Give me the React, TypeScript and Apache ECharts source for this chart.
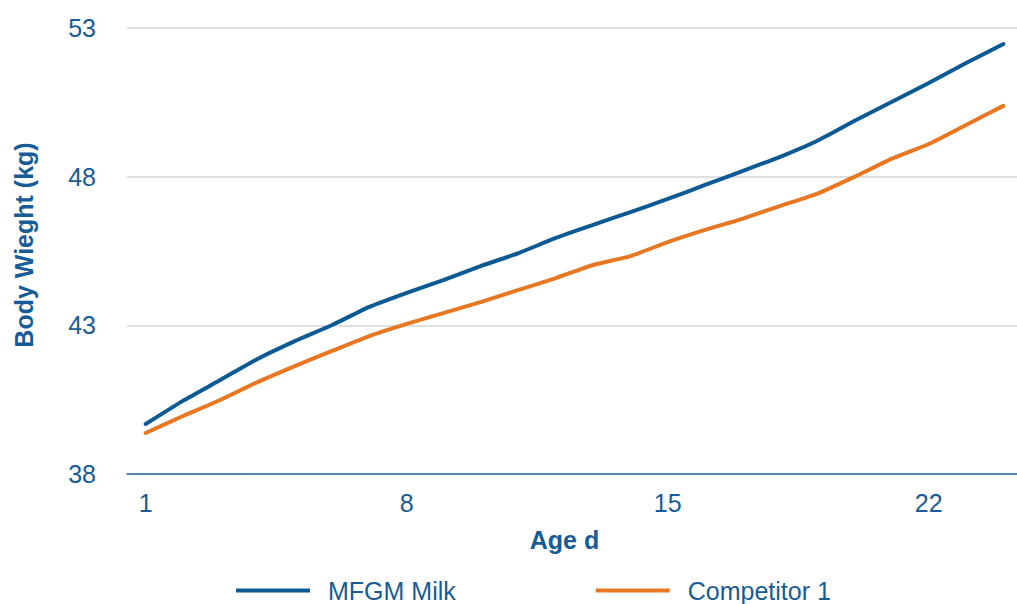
import React, { useEffect, useRef } from "react";
import * as echarts from "echarts";

const days = Array.from({ length: 24 }, (_, i) => String(i + 1));
const mfgmMilk = [
  39.68, 40.46, 41.16, 41.87, 42.47, 43.01, 43.62, 44.09, 44.53, 45.0, 45.43, 45.94,
  46.38, 46.81, 47.25, 47.72, 48.19, 48.66, 49.2, 49.87, 50.51, 51.15, 51.82, 52.46,
];
const competitor1 = [
  39.38, 39.95, 40.49, 41.09, 41.63, 42.14, 42.64, 43.05, 43.42, 43.79, 44.19, 44.59,
  45.03, 45.33, 45.8, 46.21, 46.58, 47.01, 47.42, 47.99, 48.6, 49.1, 49.74, 50.38,
];
const seriesNames = ["MFGM Milk", "Competitor 1"];

const BLUE = "#0b5a94";
const ORANGE = "#e87722";
const TEXT = "#175c96";
const FONT = "'Liberation Sans', Arial, Helvetica, sans-serif";

export default function App() {
  const ref = useRef<HTMLDivElement>(null);
  useEffect(() => {
    if (!ref.current) return;
    const chart = echarts.init(ref.current, undefined, { renderer: "svg" });
    chart.setOption({
      animation: false,
      textStyle: { fontFamily: FONT },
      grid: {
        left: 127,
        width: 895,
        top: 28,
        bottom: 130,
        containLabel: false,
        outerBoundsMode: "none",
      },
      legend: {
        left: 231,
        bottom: -4,
        itemGap: 140,
        itemWidth: 74,
        itemHeight: 4,
        icon: "rect",
        data: seriesNames,
        textStyle: { color: TEXT, fontSize: 25, fontFamily: FONT, padding: [0, 0, 0, 13] },
      },
      xAxis: {
        type: "category",
        data: days,
        boundaryGap: true,
        name: "Age d",
        nameLocation: "middle",
        nameGap: 53,
        nameTextStyle: {
          color: TEXT,
          fontSize: 25,
          fontWeight: "bold",
          fontFamily: FONT,
          padding: [0, 20, 0, 0],
        },
        axisLine: { lineStyle: { color: "#2a6aa3", width: 1.5 } },
        axisTick: { show: false },
        axisLabel: { interval: 6, color: TEXT, fontSize: 25, margin: 16, fontFamily: FONT },
        splitLine: { show: false },
      },
      yAxis: {
        type: "value",
        min: 38,
        max: 53,
        interval: 5,
        name: "Body Wieght (kg)",
        nameLocation: "middle",
        nameGap: 91,
        nameTextStyle: {
          color: TEXT,
          fontSize: 25,
          fontWeight: "bold",
          fontFamily: FONT,
          padding: [0, 0, 0, 12],
        },
        axisLine: { show: false },
        axisTick: { show: false },
        axisLabel: { color: TEXT, fontSize: 25, margin: 31, fontFamily: FONT },
        splitLine: { lineStyle: { color: "#d4d4d4", width: 1.5 } },
      },
      series: [
        {
          name: seriesNames[0],
          type: "line",
          data: mfgmMilk,
          symbol: "none",
          smooth: 0.2,
          color: BLUE,
          lineStyle: { color: BLUE, width: 4, cap: "round" },
          z: 3,
        },
        {
          name: seriesNames[1],
          type: "line",
          data: competitor1,
          symbol: "none",
          smooth: 0.2,
          color: ORANGE,
          lineStyle: { color: ORANGE, width: 4, cap: "round" },
          z: 2,
        },
      ],
    });
    return () => chart.dispose();
  }, []);
  return (
    <div
      ref={ref}
      style={{ position: "fixed", left: 0, top: 0, width: 1017, height: 604, background: "#fff" }}
    />
  );
}
